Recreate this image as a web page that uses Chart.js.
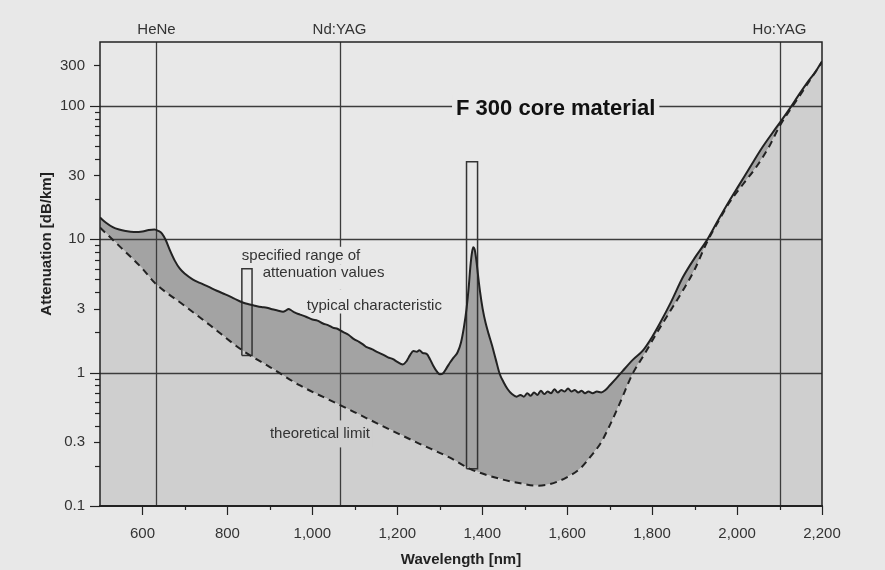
<!DOCTYPE html>
<html>
<head>
<meta charset="utf-8">
<script src="https://cdn.jsdelivr.net/npm/chart.js@4.4.1/dist/chart.umd.min.js"></script>
<style>
  html, body { margin: 0; padding: 0; background: #e8e8e8; }
  #wrap { width: 885px; height: 570px; position: relative; }
</style>
</head>
<body>
<div id="wrap"><canvas id="c" width="885" height="570"></canvas></div>
<script>
// ---------------- DATA ----------------
// typical characteristic of F 300 core material (nm, dB/km)
const typicalWavelengths = [500,515,530,545,560,580,600,615,628,638,646,655,665,676,688,700,718,735,755,775,795,815,836,850,865,880,893,905,918,931,938,944,950,958,971,985,1000,1012,1025,1038,1048,1060,1072,1085,1098,1110,1120,1128,1140,1152,1165,1178,1190,1200,1213,1222,1230,1238,1246,1252,1260,1269,1277,1285,1293,1300,1308,1316,1325,1333,1342,1350,1357,1363,1368,1372,1376,1379,1382,1386,1390,1395,1401,1408,1415,1423,1432,1441,1450,1460,1470,1481,1490,1498,1506,1514,1522,1530,1538,1546,1554,1562,1570,1578,1586,1594,1602,1610,1618,1626,1634,1642,1650,1660,1670,1680,1690,1700,1715,1731,1755,1778,1800,1818,1845,1872,1900,1928,1955,1982,2005,2029,2060,2093,2110,2124,2145,2164,2185,2200];
const typicalAttenuation = [14.5,13.2,12.3,11.8,11.5,11.3,11.4,11.7,11.8,11.5,11.0,9.8,8.2,6.9,6.0,5.5,5.0,4.7,4.4,4.1,3.85,3.6,3.35,3.25,3.17,3.1,3.06,2.98,2.92,2.86,2.92,3.0,2.93,2.82,2.72,2.62,2.5,2.45,2.33,2.26,2.17,2.12,2.02,1.92,1.78,1.7,1.62,1.55,1.5,1.43,1.37,1.3,1.26,1.2,1.15,1.22,1.35,1.45,1.43,1.47,1.4,1.38,1.26,1.12,1.02,0.97,0.99,1.08,1.2,1.3,1.42,1.68,2.2,3.0,4.3,6.2,8.0,8.7,8.4,7.0,5.4,4.0,3.0,2.35,1.95,1.6,1.25,0.98,0.85,0.75,0.69,0.66,0.68,0.66,0.7,0.67,0.71,0.68,0.73,0.69,0.72,0.7,0.75,0.71,0.74,0.72,0.76,0.72,0.74,0.71,0.73,0.7,0.72,0.7,0.72,0.71,0.74,0.8,0.9,1.03,1.25,1.46,1.85,2.33,3.4,5.15,7.2,9.7,13.8,19.4,25.5,34,49,69,82,95,120,147,180,215];

// theoretical limit (nm, dB/km)
const limitWavelengths = [500,550,600,629,700,760,836,900,971,1058,1150,1250,1324,1371,1441,1490,1528,1560,1599,1630,1653,1680,1700,1723,1754,1780,1810,1840,1872,1900,1928,1955,1982,2015,2046,2075,2100,2150,2200];
const limitAttenuation = [12.2,8.6,6.0,4.7,3.15,2.25,1.46,1.1,0.8,0.586,0.42,0.295,0.23,0.19,0.16,0.148,0.142,0.146,0.164,0.19,0.23,0.3,0.4,0.58,0.98,1.34,1.96,2.8,4.1,5.9,9.3,13.4,18.8,26,35,49,70,122,212];

// specified range of attenuation values (wavelength window, min/max dB/km)
const specWavelengthFrom = [834, 1363];
const specWavelengthTo   = [858, 1389];
const specMin = [1.34, 0.19];
const specMax = [6.0, 38];

// laser lines
const laserNames = ['HeNe', 'Nd:YAG', 'Ho:YAG'];
const laserWavelengths = [633, 1064, 2100];

// axes
const xTickValues = [600, 800, 1000, 1200, 1400, 1600, 1800, 2000, 2200];
const xMinorTicks = [700, 900, 1100, 1300, 1500, 1700, 1900, 2100];
const yTickValues = [0.1, 0.3, 1, 3, 10, 30, 100, 200];
const yTickLabels = ['0.1', '0.3', '1', '3', '10', '30', '100', '300'];
const yDecadeTicks = [0.1, 1, 10, 100];
const yMinorTicks = [0.2, 0.4, 0.5, 0.6, 0.7, 0.8, 0.9, 2, 4, 5, 6, 7, 8, 9, 20, 40, 50, 60, 70, 80, 90];
const gridValues = [1, 10, 100];

// annotation texts
const annotationTexts = ['specified range of', 'attenuation values', 'typical characteristic', 'theoretical limit', 'F 300 core material'];

// ---------------- STYLE ----------------
const PAPER = '#e8e8e8';
const LIGHT = '#cfcfcf';
const DARK = '#a3a3a3';
const INK = '#222222';
const TEXT = '#333333';
const FAMILY = '"Liberation Sans", Arial, Helvetica, sans-serif';

const annotationLayout = [
  { x: 834,  y: 7.5,  align: 'left',   font: '15px ' + FAMILY, bg: PAPER, padX: 3, padTop: 9,  padBottom: 9 },
  { x: 883,  y: 5.6,  align: 'left',   font: '15px ' + FAMILY, bg: PAPER, padX: 3, padTop: 8,  padBottom: 17 },
  { x: 987,  y: 3.18, align: 'left',   font: '15px ' + FAMILY, bg: PAPER, padX: 3, padTop: 16, padBottom: 8 },
  { x: 900,  y: 0.35, align: 'left',   font: '15px ' + FAMILY, bg: LIGHT, padX: 3, padTop: 13, padBottom: 14 },
  { x: 1573, y: 95,   align: 'center', font: 'bold 22px ' + FAMILY, bg: PAPER, padX: 4, padTop: 14, padBottom: 14 }
];

const toXY = (xs, ys) => xs.map((v, i) => ({ x: v, y: ys[i] }));
const boxData = (i) => [
  { x: specWavelengthFrom[i], y: specMin[i] },
  { x: specWavelengthFrom[i], y: specMax[i] },
  { x: specWavelengthTo[i],   y: specMax[i] },
  { x: specWavelengthTo[i],   y: specMin[i] },
  { x: specWavelengthFrom[i], y: specMin[i] }
];

const decor = {
  id: 'decor',
  beforeDatasetsDraw(chart) {
    const { ctx, chartArea: a, scales: { x, y } } = chart;
    ctx.save();
    ctx.beginPath();
    ctx.rect(a.left, a.top, a.right - a.left, a.bottom - a.top);
    ctx.clip();
    ctx.strokeStyle = '#3c3c3c';
    ctx.lineWidth = 1.3;
    gridValues.forEach(v => {
      const py = Math.round(y.getPixelForValue(v)) + 0.5;
      ctx.beginPath(); ctx.moveTo(a.left, py); ctx.lineTo(a.right, py); ctx.stroke();
    });
    laserWavelengths.forEach(w => {
      const px = Math.round(x.getPixelForValue(w)) + 0.5;
      ctx.beginPath(); ctx.moveTo(px, a.top); ctx.lineTo(px, a.bottom); ctx.stroke();
    });
    annotationTexts.forEach((t, i) => {
      const L = annotationLayout[i];
      ctx.font = L.font;
      const w = ctx.measureText(t).width;
      const px = x.getPixelForValue(L.x);
      const py = y.getPixelForValue(L.y);
      const left = L.align === 'center' ? px - w / 2 : px;
      ctx.fillStyle = L.bg;
      ctx.fillRect(left - L.padX, py - L.padTop, w + 2 * L.padX, L.padTop + L.padBottom);
      ctx.fillStyle = L.align === 'center' ? '#111' : TEXT;
      ctx.textAlign = 'left';
      ctx.textBaseline = 'middle';
      ctx.fillText(t, left, py);
    });
    ctx.restore();
  },
  afterDatasetsDraw(chart) {
    const { ctx, chartArea: a, scales: { x, y } } = chart;
    ctx.save();
    ctx.strokeStyle = INK;
    // frame
    ctx.lineWidth = 1.5;
    ctx.strokeRect(a.left, a.top, a.right - a.left, a.bottom - a.top);
    ctx.lineWidth = 2;
    ctx.beginPath(); ctx.moveTo(a.left - 1, a.bottom); ctx.lineTo(a.right + 1, a.bottom); ctx.stroke();
    // y ticks
    ctx.lineWidth = 1.2;
    const yTick = (v, len) => {
      const py = Math.round(y.getPixelForValue(v)) + 0.5;
      ctx.beginPath(); ctx.moveTo(a.left - len, py); ctx.lineTo(a.left, py); ctx.stroke();
    };
    yMinorTicks.forEach(v => yTick(v, 5));
    yTickValues.forEach(v => yTick(v, yDecadeTicks.includes(v) ? 10 : 6));
    // x ticks
    const xTick = (v, len) => {
      const px = Math.round(x.getPixelForValue(v)) + 0.5;
      ctx.beginPath(); ctx.moveTo(px, a.bottom); ctx.lineTo(px, a.bottom + len); ctx.stroke();
    };
    xMinorTicks.forEach(v => xTick(v, 4));
    xTickValues.forEach(v => xTick(v, 9));
    // laser labels
    ctx.fillStyle = TEXT;
    ctx.font = '15px ' + FAMILY;
    ctx.textAlign = 'center';
    ctx.textBaseline = 'middle';
    laserNames.forEach((n, i) => {
      ctx.fillText(n, x.getPixelForValue(laserWavelengths[i]), a.top - 12);
    });
    // y axis title
    ctx.translate(47, 244);
    ctx.rotate(-Math.PI / 2);
    ctx.font = 'bold 15px ' + FAMILY;
    ctx.fillStyle = INK;
    ctx.fillText('Attenuation [dB/km]', 0, 0);
    ctx.restore();
  }
};

new Chart(document.getElementById('c'), {
  type: 'line',
  data: {
    datasets: [
      {
        label: 'theoretical limit',
        data: toXY(limitWavelengths, limitAttenuation),
        borderColor: INK, borderWidth: 2, borderDash: [7, 5],
        pointRadius: 0, cubicInterpolationMode: 'monotone',
        fill: 'start', backgroundColor: LIGHT
      },
      {
        label: 'typical characteristic',
        data: toXY(typicalWavelengths, typicalAttenuation),
        borderColor: INK, borderWidth: 2,
        pointRadius: 0, cubicInterpolationMode: 'monotone',
        fill: { target: 0, above: DARK, below: DARK }, backgroundColor: DARK
      },
      {
        label: 'specified range 1',
        data: boxData(0),
        borderColor: TEXT, borderWidth: 1.5, pointRadius: 0, fill: false, tension: 0
      },
      {
        label: 'specified range 2',
        data: boxData(1),
        borderColor: TEXT, borderWidth: 1.5, pointRadius: 0, fill: false, tension: 0
      }
    ]
  },
  options: {
    responsive: false,
    animation: false,
    devicePixelRatio: 1,
    layout: { padding: { left: 0, top: 42, right: 63, bottom: 0 } },
    plugins: {
      legend: { display: false },
      tooltip: { enabled: false },
      filler: { drawTime: 'beforeDatasetsDraw' }
    },
    scales: {
      x: {
        type: 'linear', min: 500, max: 2200,
        afterBuildTicks: s => { s.ticks = xTickValues.map(v => ({ value: v })); },
        afterFit: s => { s.height = 64; },
        ticks: {
          callback: v => v.toLocaleString('en-US'),
          font: { family: FAMILY, size: 15 }, color: TEXT,
          padding: 19, maxRotation: 0, autoSkip: false
        },
        grid: { display: false, drawTicks: false },
        border: { display: false },
        title: {
          display: true, text: 'Wavelength [nm]',
          font: { family: FAMILY, size: 15, weight: 'bold' }, color: INK,
          padding: { top: 0, bottom: 1 }
        }
      },
      y: {
        type: 'logarithmic', min: 0.1, max: 300,
        afterBuildTicks: s => { s.ticks = yTickValues.map(v => ({ value: v })); },
        afterFit: s => { s.width = 100; },
        ticks: {
          callback: (v, i) => yTickLabels[i],
          font: { family: FAMILY, size: 15 }, color: TEXT,
          padding: 15, autoSkip: false
        },
        grid: { display: false, drawTicks: false },
        border: { display: false }
      }
    }
  },
  plugins: [decor]
});
</script>
</body>
</html>
